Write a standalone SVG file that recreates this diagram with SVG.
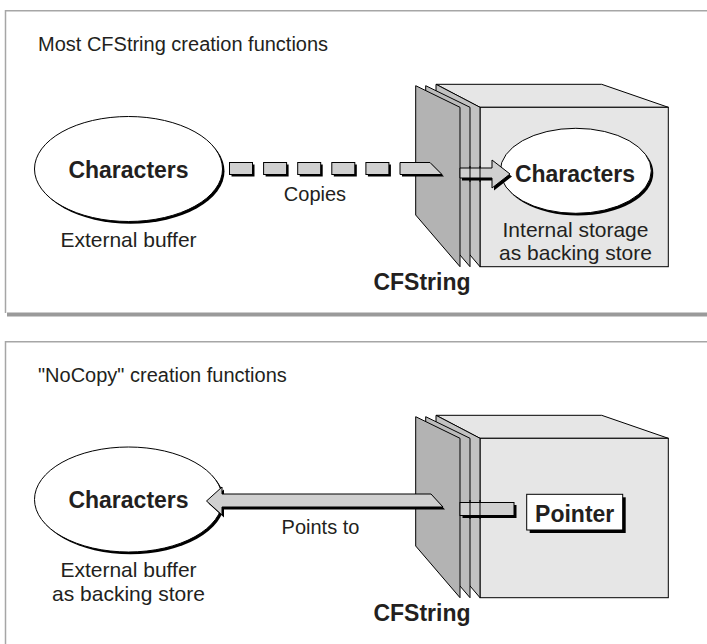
<svg xmlns="http://www.w3.org/2000/svg" width="707" height="644" viewBox="0 0 707 644">
<defs>
<style>
.frame{fill:none;stroke:#a6a6a6;stroke-width:1.5}
.fsh{fill:#9a9a9a}
.t{font-family:"Liberation Sans",Arial,Helvetica,sans-serif;font-size:20px;fill:#231f20}
.l{font-size:21px}
.b{font-weight:bold;font-size:23px}
.m{text-anchor:middle}
.ell{fill:#fff;stroke:#000;stroke-width:1}
.sh{fill:#000}
.face{fill:#e6e6e6;stroke:#000;stroke-width:1;stroke-linejoin:miter}
.pA{fill:#b3b3b3;stroke:#000;stroke-width:1}
.pB{fill:#bbbbbb;stroke:#000;stroke-width:1}
.pC{fill:#c2c2c2;stroke:#000;stroke-width:1}
.arr{fill:#d0d0d0;stroke:#000;stroke-width:1;stroke-linejoin:miter}
.ln{stroke:#000;stroke-width:1;fill:none}
</style>
<g id="cubeShape">
<polygon class="face" points="436,84.3 601.7,84.3 668.3,107.3 480,107.3"/>
<rect class="face" x="480" y="107.3" width="188.3" height="159.4"/>
<polygon class="pC" points="436,84.3 480,107.3 480,266.7 436,215"/>
<polygon class="pB" points="425.7,85.7 470,107.3 470,266.7 425.7,215"/>
<polygon class="pA" points="415.7,85.7 460,107.3 460,266.7 415.7,215"/>
</g>
</defs>

<g id="frame-top">
<rect class="fsh" x="7" y="312.5" width="700" height="4"/>
<path class="frame" d="M707,10.75 H5.5 V313"/>
<text class="t" x="38" y="50.5">Most CFString creation functions</text>
</g>

<g id="frame-bottom">
<path class="frame" d="M707,341.75 H5.5 V644"/>
<text class="t" x="38" y="381.5">"NoCopy" creation functions</text>
</g>

<!-- Top section nodes -->
<g id="ext-buffer-1">
<ellipse class="sh" cx="130.5" cy="171.2" rx="94" ry="52.5"/>
<ellipse class="ell" cx="128.5" cy="169" rx="94" ry="52.5"/>
<text class="t b m" x="128.5" y="178">Characters</text>
<text class="t l m" x="128.5" y="246.5">External buffer</text>
</g>

<g id="cfstring-1">
<use href="#cubeShape"/>
<text class="t b m" x="422" y="290">CFString</text>
</g>

<g id="internal-storage">
<ellipse class="sh" cx="577.8" cy="173" rx="75.5" ry="42.5"/>
<ellipse class="ell" cx="575.8" cy="170.8" rx="75.5" ry="42.5"/>
<text class="t l m" x="575.5" y="236.5">Internal storage</text>
<text class="t l m" x="575.5" y="260">as backing store</text>
</g>

<!-- Bottom section nodes -->
<g id="ext-buffer-2">
<ellipse class="sh" cx="130.5" cy="501.7" rx="94" ry="52.5"/>
<ellipse class="ell" cx="128.5" cy="499.5" rx="94" ry="52.5"/>
<text class="t b m" x="128.5" y="508">Characters</text>
<text class="t l m" x="128.5" y="577.3">External buffer</text>
<text class="t l m" x="128.5" y="600.7">as backing store</text>
</g>

<g id="cfstring-2">
<use href="#cubeShape" transform="translate(0,331)"/>
<text class="t b m" x="422" y="620.5">CFString</text>
</g>

<g id="connectors">
<!-- Copies: dashed block arrow -->
<g id="copies">
<rect class="sh" x="231.5" y="164.5" width="23" height="12"/>
<rect class="arr" x="229.5" y="162.5" width="23" height="12"/>
<rect class="sh" x="265.6" y="164.5" width="23" height="12"/>
<rect class="arr" x="263.6" y="162.5" width="23" height="12"/>
<rect class="sh" x="299.7" y="164.5" width="23" height="12"/>
<rect class="arr" x="297.7" y="162.5" width="23" height="12"/>
<rect class="sh" x="333.8" y="164.5" width="23" height="12"/>
<rect class="arr" x="331.8" y="162.5" width="23" height="12"/>
<rect class="sh" x="367.9" y="164.5" width="23" height="12"/>
<rect class="arr" x="365.9" y="162.5" width="23" height="12"/>
<polygon class="sh" points="402,164.5 432,164.5 444,176.5 402,176.5"/>
<polygon class="arr" points="400,162.5 430,162.5 442,174.5 400,174.5"/>
<polygon class="sh" points="462,170.5 494,170.5 494,162.5 512,176.5 494,190.5 494,180.5 462,180.5"/>
<polygon class="arr" points="460,168 492,168 492,160 510,174 492,188 492,178 460,178"/>
<line class="ln" x1="470" y1="166" x2="470" y2="182"/>
<line class="ln" x1="480" y1="166" x2="480" y2="182"/>
<text class="t m" x="315" y="201">Copies</text>
</g>
<!-- Points to: block arrow -->
<g id="points-to">
<polygon class="sh" points="445,509.5 433,496.5 224,496.5 224,489.5 208.5,503.5 224,517.5 224,509.5"/>
<polygon class="arr" points="443,507 431,494 222,494 222,487 206.5,501 222,515 222,507"/>
<rect class="sh" x="462.5" y="505" width="54" height="13"/>
<rect class="arr" x="460" y="502.5" width="54" height="13"/>
<line class="ln" x1="470" y1="500" x2="470" y2="519"/>
<line class="ln" x1="480" y1="500" x2="480" y2="519"/>
<text class="t m" x="320.5" y="534">Points to</text>
</g>
</g>

<g id="characters-internal">
<text class="t b m" x="575" y="181.5">Characters</text>
</g>

<g id="pointer">
<rect class="sh" x="529.7" y="497.3" width="96" height="35.7"/>
<rect x="526.7" y="494.3" width="96" height="35.7" fill="#fff" stroke="#000" stroke-width="1"/>
<text class="t b m" x="574.7" y="521.7">Pointer</text>
</g>
</svg>
